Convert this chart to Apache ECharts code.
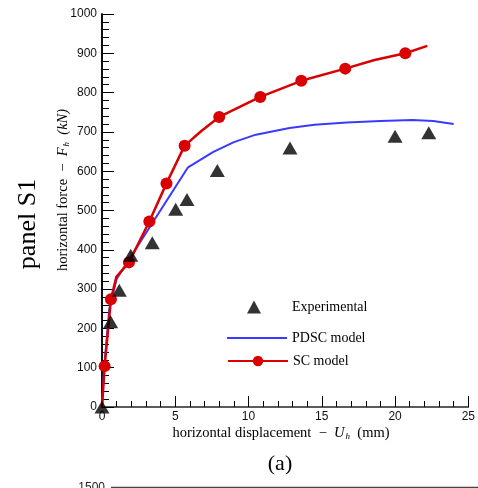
<!DOCTYPE html>
<html>
<head>
<meta charset="utf-8">
<script src="https://cdn.jsdelivr.net/npm/echarts@6/dist/echarts.min.js"></script>
<style>
  html, body { margin: 0; padding: 0; background: #fff; }
  #chart { width: 478px; height: 488px; }
</style>
</head>
<body>
<div id="chart"></div>
<script>
// experimental points [displacement mm, force kN]
var expX = [0, 0.59, 1.18, 1.96, 3.43, 5.03, 5.8, 7.87, 12.83, 20.0, 22.3];
var expY = [0, 217, 297, 386, 418, 503, 528, 602, 659, 689, 698];

// PDSC model curve
var pdscX = [0, 0.15, 0.5, 1.0, 5.87, 7.6, 9.0, 10.5, 12.8, 14.5, 16.7, 19.0, 21.2, 22.6, 24.0];
var pdscY = [0, 100, 250, 326, 610, 649, 674, 693, 710, 718, 724, 728, 730, 728, 720];

// SC model curve; mark = 1 where a circle is drawn
var scX = [0, 0.18, 0.61, 0.98, 1.84, 3.23, 4.4, 5.64, 6.8, 8.0, 10.8, 13.6, 16.6, 18.6, 20.7, 22.2];
var scY = [0, 104, 274, 331, 368, 472, 569, 665, 703, 738, 789, 830, 861, 883, 900, 919];
var scMark = [0, 1, 1, 0, 1, 1, 1, 1, 0, 1, 1, 1, 1, 0, 1, 0];

var xTicks = [0, 5, 10, 15, 20, 25];
var yTicks = [0, 100, 200, 300, 400, 500, 600, 700, 800, 900, 1000];

var chart = echarts.init(document.getElementById('chart'));

var serif = '"Liberation Serif", "DejaVu Serif", serif';
var sans = '"Liberation Sans", Arial, sans-serif';

var expData = expX.map(function (x, i) { return [x, expY[i]]; });
var pdscData = pdscX.map(function (x, i) { return [x, pdscY[i]]; });
var scData = scX.map(function (x, i) {
  return { value: [x, scY[i]], symbolSize: scMark[i] ? 12 : 0 };
});

var legendText = { fontFamily: serif, fontSize: 14, color: '#000' };

var option = {
  animation: false,
  backgroundColor: '#fff',
  grid: { left: 102, right: 9, top: 14, bottom: 81 },
  legend: [{
    data: [{ name: 'Experimental', icon: 'triangle' }],
    left: 242, top: 295,
    itemWidth: 14, itemHeight: 13,
    selectedMode: false,
    textStyle: Object.assign({ padding: [0, 0, 0, 26] }, legendText)
  }, {
    data: [{ name: 'PDSC model', icon: 'rect' }],
    left: 222, top: 326,
    itemWidth: 60, itemHeight: 2,
    selectedMode: false,
    textStyle: Object.assign({ padding: [0, 0, 0, 0] }, legendText)
  }, {
    data: ['SC model'],
    left: 222, top: 349,
    itemWidth: 60, itemHeight: 13,
    selectedMode: false,
    textStyle: Object.assign({ padding: [0, 0, 0, 0] }, legendText)
  }],
  xAxis: [{
    type: 'value',
    min: 0, max: 25, interval: 5,
    axisLine: { lineStyle: { color: '#000', width: 1.5 } },
    axisTick: { inside: true, length: 11, lineStyle: { color: '#000' } },
    minorTick: { show: true, splitNumber: 5, length: 6, lineStyle: { color: '#000' } },
    splitLine: { show: false },
    axisLabel: { fontFamily: sans, fontSize: 12, color: '#111', margin: 4,
      formatter: function (v) { return xTicks.indexOf(v) >= 0 ? String(v) : ''; } }
  }, {
    type: 'value', position: 'top',
    min: 0, max: 25,
    axisLine: { show: true, lineStyle: { color: '#666', width: 1.5 } },
    axisTick: { show: false }, axisLabel: { show: false }, splitLine: { show: false }
  }],
  yAxis: [{
    type: 'value',
    min: 0, max: 1000, interval: 100,
    axisLine: { show: true, lineStyle: { color: '#000', width: 1.5 } },
    axisTick: { inside: true, length: 12, lineStyle: { color: '#000' } },
    minorTick: { show: true, splitNumber: 5, length: 7, lineStyle: { color: '#000' } },
    splitLine: { show: false },
    axisLabel: { fontFamily: sans, fontSize: 12, color: '#111', margin: 5,
      formatter: function (v) { return yTicks.indexOf(v) >= 0 ? String(v) : ''; } }
  }, {
    type: 'value', position: 'right',
    min: 0, max: 1000,
    axisLine: { show: true, lineStyle: { color: '#000', width: 1.5 } },
    axisTick: { show: false }, axisLabel: { show: false }, splitLine: { show: false }
  }],
  series: [{
    name: 'PDSC model',
    type: 'line',
    data: pdscData,
    symbol: 'none',
    lineStyle: { color: '#3a3aff', width: 2 },
    itemStyle: { color: '#3a3aff' },
    z: 2
  }, {
    name: 'SC model',
    type: 'line',
    data: scData,
    symbol: 'circle',
    symbolSize: 12,
    lineStyle: { color: '#d80000', width: 2.5 },
    itemStyle: { color: '#d80000' },
    z: 3
  }, {
    name: 'Experimental',
    type: 'scatter',
    data: expData,
    symbol: 'triangle',
    symbolSize: [15, 13],
    itemStyle: { color: '#000' },
    z: 4
  }],
  graphic: [{
    type: 'text',
    x: 28, y: 224,
    rotation: Math.PI / 2,
    style: { text: 'panel S1', font: '26px ' + serif, fill: '#000', align: 'center', verticalAlign: 'middle' }
  }, {
    // y axis title with italic/subscript parts
    type: 'text',
    x: 63, y: 190,
    rotation: Math.PI / 2,
    style: {
      text: '{n|horizontal force  −  }{i|F}{s|h}{n|  }{i|(kN)}',
      align: 'center', verticalAlign: 'middle',
      rich: {
        n: { font: '14.5px ' + serif, fill: '#000' },
        i: { font: 'italic 14.5px ' + serif, fill: '#000' },
        s: { font: 'italic 9px ' + serif, fill: '#000', padding: [8, 0, 0, 1] }
      }
    }
  }, {
    type: 'text',
    x: 281, y: 433,
    style: {
      text: '{n|horizontal displacement  −  }{i|U}{s|h}{n|  (mm)}',
      align: 'center', verticalAlign: 'middle',
      rich: {
        n: { font: '14.5px ' + serif, fill: '#000' },
        i: { font: 'italic 14.5px ' + serif, fill: '#000' },
        s: { font: 'italic 9px ' + serif, fill: '#000', padding: [8, 0, 0, 1] }
      }
    }
  }, {
    type: 'text',
    x: 280, y: 464,
    style: { text: '(a)', font: '22px ' + serif, fill: '#000', align: 'center', verticalAlign: 'middle' }
  }, {
    type: 'text',
    x: 105, y: 482,
    style: { text: '1500', font: '12px ' + sans, fill: '#222', align: 'right', verticalAlign: 'top' }
  }, {
    type: 'line',
    shape: { x1: 111, y1: 487.5, x2: 478, y2: 487.5 },
    style: { stroke: '#444', lineWidth: 1.5 }
  }]
};

chart.setOption(option);
</script>
</body>
</html>
